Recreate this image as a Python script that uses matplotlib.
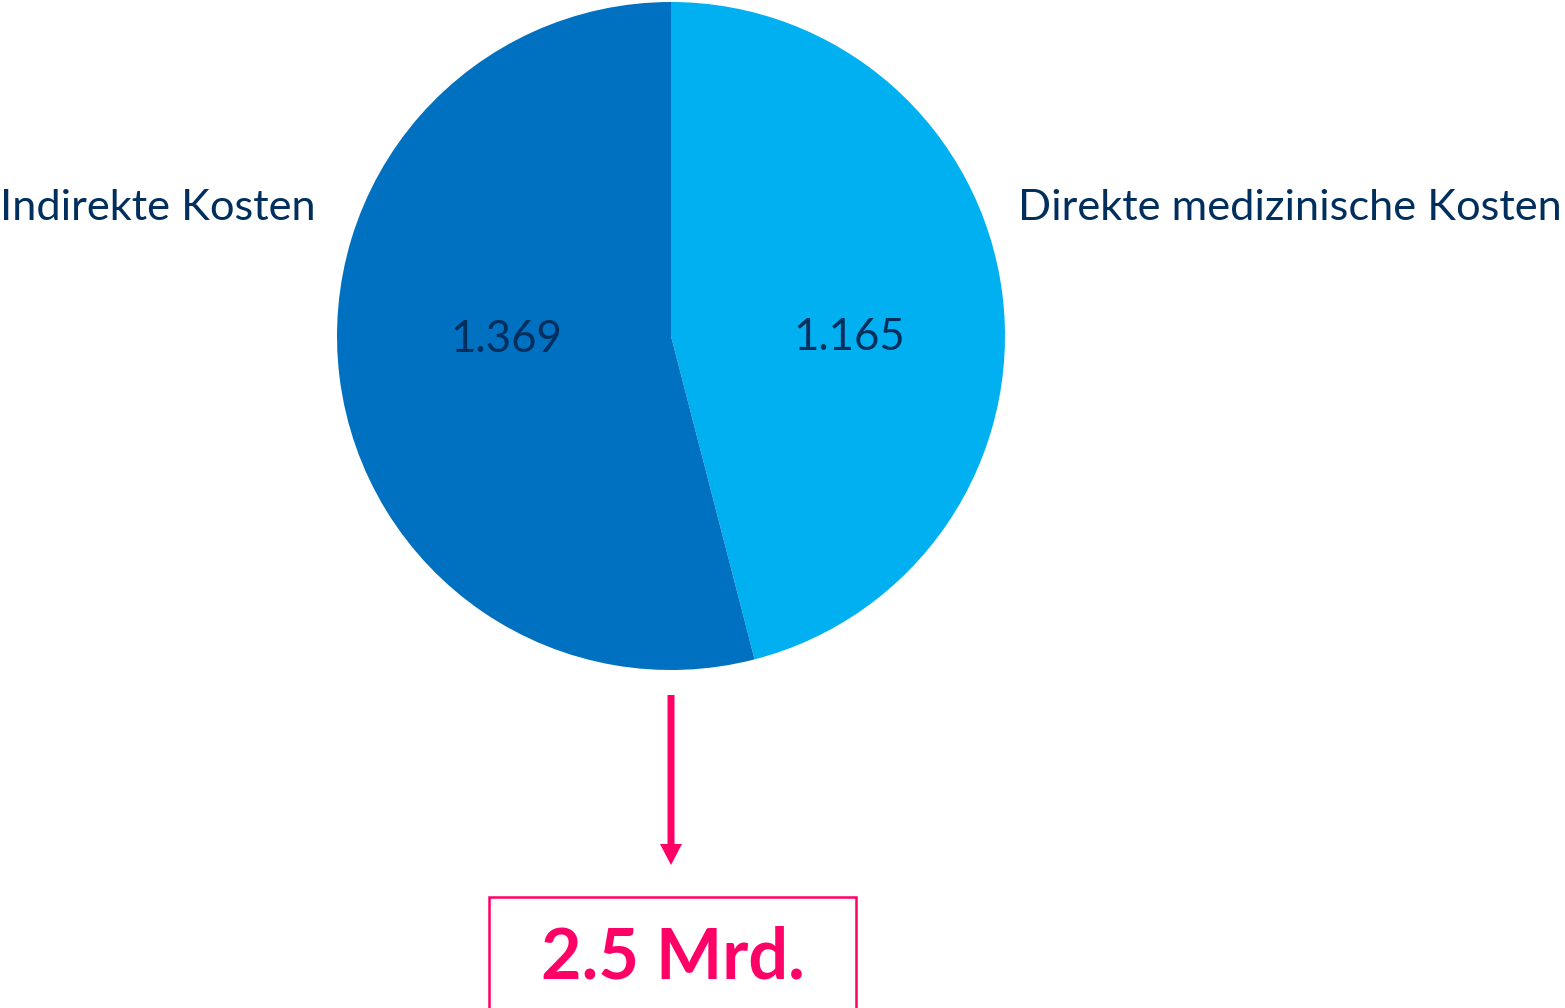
import matplotlib
matplotlib.use("Agg")
import matplotlib.pyplot as plt
from matplotlib.patches import Rectangle, FancyArrow

categories = ["Direkte medizinische Kosten", "Indirekte Kosten"]
values = [1.165, 1.369]
value_labels = ["1.165", "1.369"]
total_label = "2.5 Mrd."

colors = ["#00B0F0", "#0070C0"]
text_color = "#002E5D"
pink = "#FF0066"

plt.rcParams['font.family'] = ['Lato', 'DejaVu Sans']

W, H = 1565, 1008
fig = plt.figure(figsize=(W / 100, H / 100), dpi=100)
ax = fig.add_axes([0, 0, 1, 1])
ax.set_xlim(0, W)
ax.set_ylim(0, H)
ax.set_aspect('equal')
ax.axis('off')

cx, cy, r = 671, H - 336, 334
wedges, _ = ax.pie(values, colors=colors, startangle=90, counterclock=False,
                   center=(cx, cy), radius=r, frame=True,
                   wedgeprops=dict(linewidth=0))
ax.set_xlim(0, W)
ax.set_ylim(0, H)
ax.axis('off')

# value labels inside slices
ax.text(849, H - 338, value_labels[0], ha='center', va='center', fontsize=31.5, color=text_color)
ax.text(506, H - 339, value_labels[1], ha='center', va='center', fontsize=31.5, color=text_color)

# category labels
ax.text(1018, H - 208, categories[0], ha='left', va='center', fontsize=31.2, color=text_color)
ax.text(0, H - 208, categories[1], ha='left', va='center', fontsize=31.2, color=text_color)

# arrow
ax.add_patch(FancyArrow(671, H - 695, 0, -170, width=7, head_width=22, head_length=21,
                        length_includes_head=True, color=pink, linewidth=0))

# box with total
ax.add_patch(Rectangle((489, H - 1010), 367, 113, fill=False, edgecolor=pink, linewidth=1.8))
ax.text(673, H - 958, total_label, ha='center', va='center', fontsize=50.5, fontweight='bold', color=pink)

fig.savefig("out.png", dpi=100)
